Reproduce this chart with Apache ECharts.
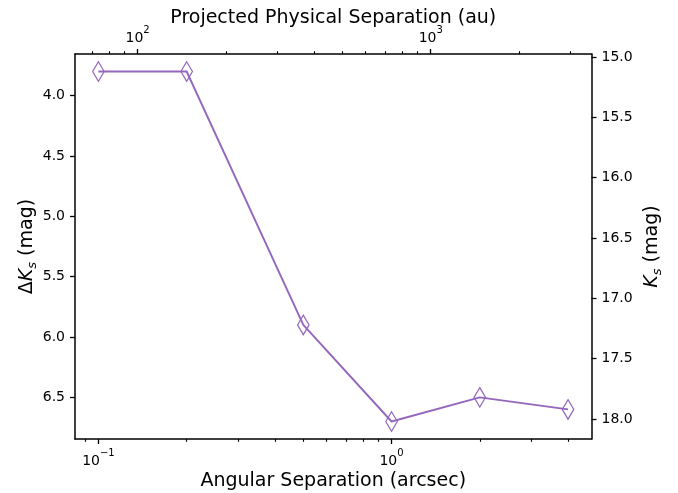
<!DOCTYPE html>
<html><head><meta charset="utf-8">
<script src="https://cdn.jsdelivr.net/npm/echarts@6/dist/echarts.min.js"></script>
<style>html,body{margin:0;padding:0;background:#fff}#c{width:678px;height:493px}</style>
</head><body><div id="c"></div>
<script>
// ---- data ----
const separations = [0.1, 0.2, 0.5, 1.0, 2.0, 4.0];      // arcsec
const deltaKs = [3.8, 3.8, 5.9, 6.7, 6.5, 6.6];          // mag
const auPerArcsec = 735;                                 // distance (pc)
const ksOffset = 11.32;                                  // Ks = dKs + offset
const xRange = [0.0832, 4.81];
const yRange = [3.655, 6.845];
const bottomMajor = [0.1, 1];
const bottomMinor = [0.09, 0.2, 0.3, 0.4, 0.5, 0.6, 0.7, 0.8, 0.9, 2, 3, 4];
const topMajor = [100, 1000];
const topMinor = [70, 80, 90, 200, 300, 400, 500, 600, 700, 800, 900, 2000, 3000];
const leftTicks = [4.0, 4.5, 5.0, 5.5, 6.0, 6.5];
const rightTicks = [15.0, 15.5, 16.0, 16.5, 17.0, 17.5, 18.0];

const FONT = 'DejaVu Sans';
const lineW = 1.5;
const purple = '#9467bd';

function powLabel(v) {
  const e = Math.round(Math.log10(v));
  return '{b|10}{s|' + String(e).replace('-', '\u2212') + '}';
}
const powRich = {
  b: { fontSize: 14, fontFamily: FONT, color: '#000', lineHeight: 20, verticalAlign: 'bottom' },
  s: { fontSize: 10, fontFamily: FONT, color: '#000', lineHeight: 12, verticalAlign: 'top' }
};

function majorX(pos, min, max, ticks, name, gap) {
  return {
    type: 'log', position: pos, min: min, max: max, logBase: 10,
    axisLine: { show: true, lineStyle: { color: '#000', width: lineW } },
    axisTick: { show: true, customValues: ticks, length: 5, lineStyle: { color: '#000', width: 1.3 } },
    axisLabel: { show: true, customValues: ticks, margin: 9, formatter: powLabel, rich: powRich },
    splitLine: { show: false }, minorTick: { show: false },
    name: name, nameLocation: 'middle', nameGap: gap, nameMoveOverlap: false,
    nameTextStyle: { fontFamily: FONT, fontSize: 19, color: '#000' }
  };
}
function minorX(pos, min, max, ticks) {
  return {
    type: 'log', position: pos, min: min, max: max, logBase: 10,
    axisLine: { show: false },
    axisTick: { show: true, customValues: ticks, length: 2.8, lineStyle: { color: '#000', width: 1.1 } },
    axisLabel: { show: false }, splitLine: { show: false }
  };
}
function yAx(pos, min, max, ticks, name, gap) {
  return {
    type: 'value', position: pos, inverse: true, min: min, max: max,
    axisLine: { show: true, lineStyle: { color: '#000', width: lineW } },
    axisTick: { show: true, customValues: ticks, length: 5, lineStyle: { color: '#000', width: 1.3 } },
    axisLabel: { show: true, customValues: ticks, margin: 10, fontFamily: FONT, fontSize: 14, color: '#000',
                 formatter: v => v.toFixed(1) },
    splitLine: { show: false },
    name: name, nameLocation: 'middle', nameGap: gap, nameRotate: 90, nameMoveOverlap: false,
    nameTextStyle: {
      fontFamily: FONT, fontSize: 19, color: '#000',
      rich: {
        n: { fontFamily: FONT, fontSize: 19, color: '#000', lineHeight: 24, verticalAlign: 'middle' },
        i: { fontFamily: FONT, fontSize: 19, fontStyle: 'italic', color: '#000', lineHeight: 24, verticalAlign: 'middle' },
        sub: { fontFamily: FONT, fontSize: 13, fontStyle: 'italic', color: '#000', lineHeight: 8, verticalAlign: 'bottom' }
      }
    }
  };
}

const chart = echarts.init(document.getElementById('c'), null, { renderer: 'canvas' });
chart.setOption({
  backgroundColor: '#fff',
  animation: false,
  grid: { left: 75, right: 86.5, top: 54, bottom: 54, containLabel: false, outerBoundsMode: 'none' },
  xAxis: [
    majorX('bottom', xRange[0], xRange[1], bottomMajor, 'Angular Separation (arcsec)', 33),
    minorX('bottom', xRange[0], xRange[1], bottomMinor),
    majorX('top', xRange[0] * auPerArcsec, xRange[1] * auPerArcsec, topMajor, 'Projected Physical Separation (au)', 26),
    minorX('top', xRange[0] * auPerArcsec, xRange[1] * auPerArcsec, topMinor)
  ],
  yAxis: [
    yAx('left', yRange[0], yRange[1], leftTicks, '{n|\u0394}{i|K}{sub|s}{n| (mag)}', 36),
    yAx('right', yRange[0] + ksOffset, yRange[1] + ksOffset, rightTicks, '{i|K}{sub|s}{n| (mag)}', 49)
  ],
  series: [{
    type: 'line', xAxisIndex: 0, yAxisIndex: 0,
    data: separations.map((s, i) => [s, deltaKs[i]]),
    symbol: 'diamond', symbolSize: [11.5, 19.5],
    lineStyle: { color: purple, width: 1.9 },
    itemStyle: { color: 'rgba(0,0,0,0)', borderColor: purple, borderWidth: 1.3 },
    z: 3
  }]
});
</script></body></html>
